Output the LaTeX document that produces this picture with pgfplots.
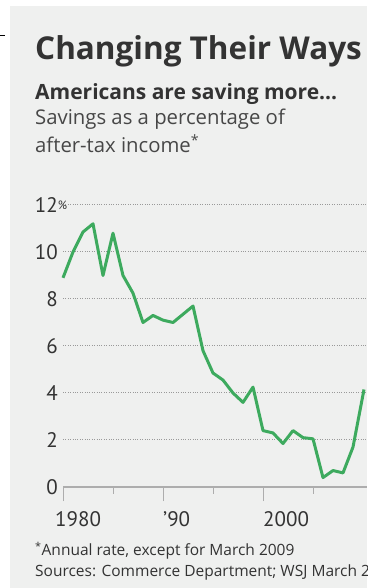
\documentclass[border=0pt]{standalone}
\usepackage{pgfplots}
\pgfplotsset{compat=1.18}
\usepackage{fontspec}
\setmainfont{Open Sans}
\newfontfamily\pt{PT Sans}
\definecolor{bg}{HTML}{EFF0EF}
\definecolor{txt}{HTML}{333333}
\definecolor{lgreen}{HTML}{3DAA5E}
\definecolor{grid}{HTML}{999999}
\begin{document}
\begin{tikzpicture}[x=1pt,y=1pt]
\useasboundingbox (0,0) rectangle (367,588);
\clip (0,0) rectangle (367,588);
\fill[bg] (10,0) rectangle (367,582);
\draw[black,line width=0.8pt] (0,553) -- (5,553);
\node[anchor=base west,inner sep=0pt,text=txt,font=\fontsize{31.5}{31.5}\selectfont\bfseries] at (35,528) {Changing Their Ways};
\node[anchor=base west,inner sep=0pt,text=txt,font=\fontsize{21}{21}\selectfont\bfseries] at (35,488) {Americans are saving more...};
\node[anchor=base west,inner sep=0pt,text=txt!90,font=\fontsize{20.3}{20.3}\selectfont] at (35,463) {Savings as a percentage of};
\node[anchor=base west,inner sep=0pt,text=txt!90,font=\fontsize{20.3}{20.3}\selectfont] at (35,435) {after-tax income\textsuperscript{*}};
\node[anchor=base west,inner sep=0pt,text=txt,font=\fontsize{15.5}{15.5}\selectfont] at (35,32) {\textsuperscript{*}Annual rate, except for March 2009};
\node[anchor=base west,inner sep=0pt,text=txt,font=\fontsize{15.5}{15.5}\selectfont] at (35,12) {Sources: Commerce Department; WSJ March 2009};
\begin{axis}[
  at={(63pt,101pt)}, anchor=south west,
  scale only axis, width=304pt, height=282pt,
  xmin=1980, xmax=2010.4, ymin=0, ymax=12,
  clip=false,
  axis x line*=bottom, axis y line*=left,
  x axis line style={draw=grid!80, line width=1.4pt, -},
  y axis line style={draw=none},
  ytick={0,2,...,12},
  yticklabels={0,2,4,6,8,10,12\rlap{\raisebox{3pt}{\fontsize{12}{12}\selectfont\%}}},
  ymajorgrids, grid style={draw=grid, dotted, line width=1pt},
  xtick={1980,1990,2000},
  minor xtick={1985,1995,2005},
  xticklabels={\hspace*{-8pt}1980,’90,2000},
  major tick length=14pt, minor tick length=7pt,
  tick align=outside,
  xtick style={draw=grid!80, line width=1pt},
  ytick style={draw=none},
  xticklabel style={anchor=north west, inner sep=0pt, yshift=-10pt, text=txt, font=\pt\fontsize{21}{21}\selectfont},
  yticklabel style={anchor=east, inner sep=0pt, xshift=9pt, text=txt, font=\pt\fontsize{21}{21}\selectfont},
  /pgf/number format/assume math mode=true,
]
\addplot[lgreen, line width=3pt, line join=round] coordinates {
(1980,8.9) (1981,10.0) (1982,10.85) (1983,11.2) (1984,9.0) (1985,10.8)
(1986,9.0) (1987,8.25) (1988,7.0) (1989,7.3) (1990,7.1) (1991,7.0)
(1992,7.35) (1993,7.7) (1994,5.8) (1995,4.85) (1996,4.55) (1997,4.0)
(1998,3.6) (1999,4.25) (2000,2.4) (2001,2.3) (2002,1.85) (2003,2.4)
(2004,2.1) (2005,2.05) (2006,0.4) (2007,0.7) (2008,0.6) (2009,1.7)
(2010.1,4.15)
};
\end{axis}
\end{tikzpicture}
\end{document}
